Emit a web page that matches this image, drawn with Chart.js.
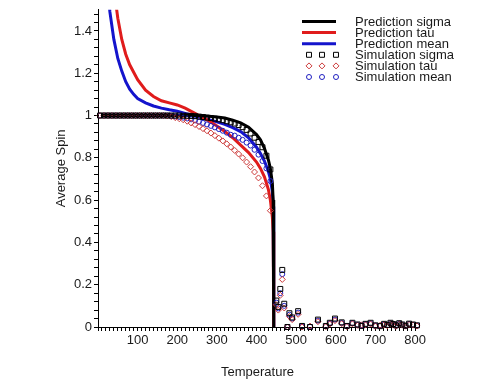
<!DOCTYPE html>
<html>
<head>
<meta charset="utf-8">
<script src="https://cdn.jsdelivr.net/npm/chart.js@4.4.1/dist/chart.umd.min.js"></script>
<style>
  html, body { margin: 0; padding: 0; background: #fff; }
  canvas { display: block; }
</style>
</head>
<body>
<canvas id="chart" width="483" height="382"></canvas>
<script>
'use strict';

// prediction curves (mean field), sampled on a shared temperature grid
const predTemps = [10, 20, 30, 40, 50, 60, 70, 80, 90, 100,
  120, 140, 160, 180, 200, 220, 240, 260, 280, 300, 320, 340, 360, 380,
  400, 410, 420, 430, 435, 440, 442, 443, 444];
const predSigma = [1, 1, 1, 1, 1, 1, 1, 1, 1, 1,
  1, 1, 1, 1, 1, 1, 1, 0.999, 0.997, 0.993, 0.988, 0.978, 0.965, 0.945,
  0.91, 0.885, 0.845, 0.79, 0.75, 0.68, 0.6, 0.45, 0];
const predTau = [3.0, 2.3, 1.85, 1.6, 1.46, 1.36, 1.29, 1.24, 1.205, 1.17,
  1.12, 1.09, 1.07, 1.06, 1.05, 1.035, 1.015, 0.995, 0.975, 0.95, 0.925, 0.895, 0.86, 0.825,
  0.78, 0.75, 0.71, 0.65, 0.6, 0.52, 0.45, 0.35, 0];
const predMean = [2.0, 1.7, 1.49, 1.36, 1.27, 1.21, 1.16, 1.125, 1.1, 1.08,
  1.06, 1.045, 1.035, 1.027, 1.02, 1.01, 1.0, 0.99, 0.98, 0.97, 0.958, 0.943, 0.924, 0.895,
  0.85, 0.82, 0.785, 0.735, 0.7, 0.64, 0.57, 0.45, 0];

// simulation results
const simTemps = [5, 15, 25, 35, 45, 55, 65, 75, 85, 95,
  105, 115, 125, 135, 145, 155, 165, 175, 185, 195,
  205, 215, 225, 235, 245, 255, 265, 275, 285, 295,
  305, 315, 325, 335, 345, 355, 365, 375, 385, 395,
  405, 415, 425, 435,
  450, 455, 460, 465, 470, 478, 483, 490, 505, 515,
  535, 555, 575, 585, 598, 615, 628, 642, 655, 665,
  675, 688, 700, 712, 722, 730, 738, 745, 752, 760,
  768, 776, 785, 795, 805];
const simSigma = [1, 1, 1, 1, 1, 1, 1, 1, 1, 1,
  1, 1, 1, 1, 1, 1, 1, 1, 1, 1,
  1.0, 0.999, 0.999, 0.998, 0.997, 0.995, 0.993, 0.99, 0.988, 0.985,
  0.982, 0.978, 0.973, 0.968, 0.962, 0.955, 0.945, 0.932, 0.915, 0.895,
  0.875, 0.85, 0.81, 0.745,
  0.125, 0.095, 0.18, 0.27, 0.11, 0.0, 0.065, 0.045, 0.075, 0.005,
  0.0, 0.035, 0.005, 0.02, 0.04, 0.022, 0.005, 0.02, 0.012, 0.005,
  0.015, 0.02, 0.008, 0.004, 0.015, 0.01, 0.02, 0.014, 0.008, 0.018,
  0.012, 0.006, 0.016, 0.012, 0.008];
const simTau = [1, 1, 1, 1, 1, 1, 1, 1, 1, 1,
  1, 1, 1, 1, 1, 1, 1, 0.998, 0.995, 0.99,
  0.985, 0.98, 0.973, 0.965, 0.957, 0.948, 0.938, 0.928, 0.917, 0.905,
  0.893, 0.88, 0.866, 0.851, 0.835, 0.818, 0.8, 0.78, 0.758, 0.733,
  0.705, 0.668, 0.62, 0.55,
  0.105, 0.08, 0.15, 0.225, 0.09, 0.0, 0.05, 0.035, 0.06, 0.0,
  0.004, 0.025, 0.002, 0.014, 0.03, 0.016, 0.002, 0.015, 0.008, 0.01,
  0.01, 0.014, 0.004, 0.008, 0.01, 0.006, 0.014, 0.01, 0.004, 0.013,
  0.009, 0.004, 0.012, 0.009, 0.005];
const simMean = [1, 1, 1, 1, 1, 1, 1, 1, 1, 1,
  1, 1, 1, 1, 1, 1, 1, 1, 0.998, 0.996,
  0.993, 0.99, 0.986, 0.982, 0.977, 0.971, 0.965, 0.958, 0.951, 0.944,
  0.936, 0.928, 0.919, 0.909, 0.905, 0.895, 0.885, 0.872, 0.858, 0.838,
  0.815, 0.785, 0.75, 0.69,
  0.115, 0.088, 0.16, 0.25, 0.1, 0.0, 0.058, 0.04, 0.068, 0.002,
  0.002, 0.03, 0.004, 0.017, 0.035, 0.019, 0.004, 0.018, 0.01, 0.008,
  0.012, 0.017, 0.006, 0.006, 0.012, 0.008, 0.017, 0.012, 0.006, 0.015,
  0.01, 0.005, 0.014, 0.01, 0.006];

const FONT = '"Liberation Sans", Arial, sans-serif';
const TEXT = '#1a1a1a';

const toPoints = (xs, ys) => xs.map((x, i) => ({x: x, y: ys[i]}));

const curve = (label, values, color) => ({
  label: label,
  data: toPoints(predTemps, values),
  showLine: true,
  borderColor: color,
  borderWidth: 3,
  pointRadius: 0,
  tension: 0,
  order: 1
});

const markers = (label, values, color, style, radius) => ({
  label: label,
  data: toPoints(simTemps, values),
  showLine: false,
  pointStyle: style,
  pointRadius: radius,
  borderColor: color,
  backgroundColor: 'rgba(0,0,0,0)',
  pointBorderWidth: 1,
  clip: false,
  order: 0
});

// legend with a line sample or three markers per entry, like the original plot
const spinLegend = {
  id: 'spinLegend',
  afterDraw(chart) {
    const ctx = chart.ctx;
    ctx.save();
    ctx.font = '13px ' + FONT;
    ctx.textBaseline = 'middle';
    chart.data.datasets.forEach((ds, i) => {
      const y = 21.5 + i * 11.1;
      if (ds.showLine) {
        ctx.strokeStyle = ds.borderColor;
        ctx.lineWidth = 3;
        ctx.beginPath();
        ctx.moveTo(302, y);
        ctx.lineTo(336, y);
        ctx.stroke();
      } else {
        [309, 322, 336].forEach((x) => {
          ctx.strokeStyle = ds.borderColor;
          ctx.fillStyle = 'rgba(0,0,0,0)';
          ctx.lineWidth = 1;
          Chart.helpers.drawPoint(ctx, {
            pointStyle: ds.pointStyle, radius: ds.pointRadius, rotation: 0, borderWidth: 1
          }, x, y);
        });
      }
      ctx.fillStyle = TEXT;
      ctx.fillText(ds.label, 355, y + 0.5);
    });
    ctx.restore();
  }
};

new Chart(document.getElementById('chart').getContext('2d'), {
  type: 'scatter',
  data: {
    datasets: [
      curve('Prediction sigma', predSigma, '#000000'),
      curve('Prediction tau', predTau, '#e01c1c'),
      curve('Prediction mean', predMean, '#1414cc'),
      markers('Simulation sigma', simSigma, '#000000', 'rect', 3.5),
      markers('Simulation tau', simTau, '#cc3a3a', 'rectRot', 3),
      markers('Simulation mean', simMean, '#2020c0', 'circle', 2.5)
    ]
  },
  options: {
    responsive: false,
    animation: false,
    layout: {padding: {top: 3, right: 66, left: 0, bottom: 0}},
    plugins: {
      legend: {display: false},
      tooltip: {enabled: false}
    },
    scales: {
      x: {
        type: 'linear',
        min: 0,
        max: 805,
        afterFit: (scale) => { scale.height = 55; },
        border: {display: true, color: '#000', width: 1},
        grid: {drawOnChartArea: false, drawTicks: true, tickLength: 4, tickColor: '#000'},
        ticks: {
          stepSize: 10,
          includeBounds: false,
          autoSkip: false,
          maxRotation: 0,
          padding: 2,
          color: TEXT,
          font: {family: FONT, size: 13},
          callback: (v) => (v > 0 && v % 100 === 0) ? String(v) : ''
        },
        title: {
          display: true,
          text: 'Temperature',
          color: TEXT,
          font: {family: FONT, size: 13},
          padding: {top: 0, bottom: 2}
        }
      },
      y: {
        type: 'linear',
        min: 0,
        max: 1.5,
        afterFit: (scale) => { scale.width = 98; },
        border: {display: true, color: '#000', width: 1},
        grid: {drawOnChartArea: false, drawTicks: true, tickLength: 4, tickColor: '#000'},
        ticks: {
          stepSize: 0.04,
          includeBounds: false,
          autoSkip: false,
          padding: 2,
          color: TEXT,
          font: {family: FONT, size: 13},
          callback: (v) => {
            const r = Math.round(v * 100);
            if (r % 20 !== 0) return '';
            return String(r / 100);
          }
        },
        title: {
          display: true,
          text: 'Average Spin',
          color: TEXT,
          font: {family: FONT, size: 13},
          padding: {top: 54, bottom: 0}
        }
      }
    }
  },
  plugins: [spinLegend]
});
</script>
</body>
</html>
